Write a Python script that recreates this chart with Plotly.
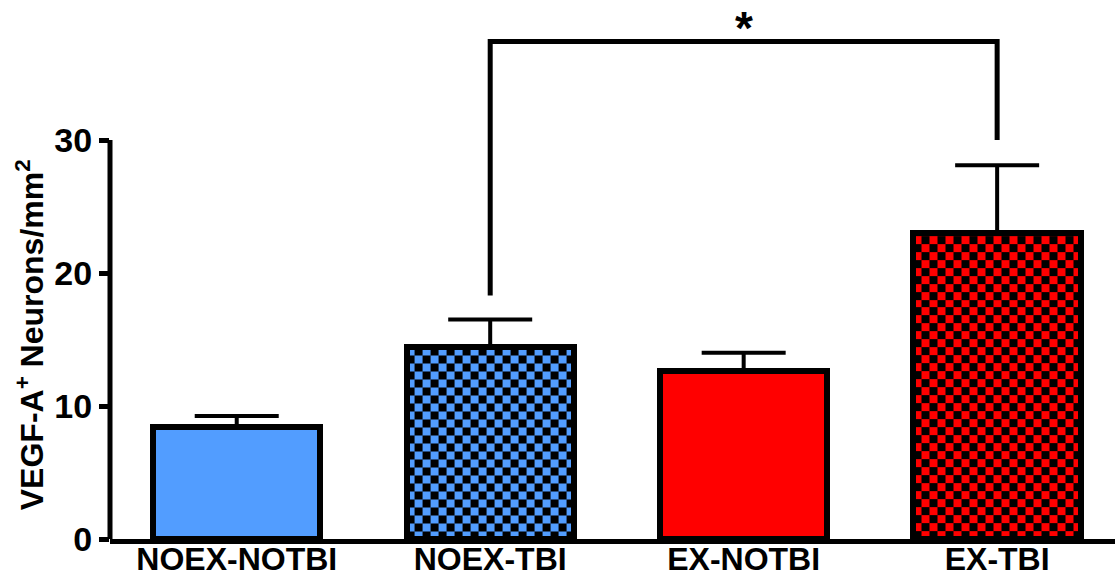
import numpy as np
import plotly.graph_objects as go

# Group data
groups = ["NOEX-NOTBI", "NOEX-TBI", "EX-NOTBI", "EX-TBI"]
means = [8.4, 14.4, 12.6, 23.0]
sems = [0.85, 2.1, 1.4, 5.1]
checkered = [False, True, False, True]
colors = ["#529dff", "#529dff", "#ff0000", "#ff0000"]

# Significance bracket between NOEX-TBI and EX-TBI
bracket_x = [1, 1, 3, 3]
bracket_y = [18.3, 37.4, 37.4, 30.0]
star_label = "*"

FONT = "Arial, Liberation Sans, sans-serif"
BAR_W = 0.66
CELL_W = 0.0316   # checker cell width (x units)
CELL_H = 0.6      # checker cell height (y units)

xpos = list(range(len(groups)))
fig = go.Figure()

# Checkerboard fills for the TBI groups
for i, (m, chk, c) in enumerate(zip(means, checkered, colors)):
    if not chk:
        continue
    left, right = i - BAR_W / 2, i + BAR_W / 2
    xe = list(np.arange(left, right, CELL_W)) + [right]
    ye = list(np.arange(0, m, CELL_H)) + [m]
    nx, ny = len(xe) - 1, len(ye) - 1
    z = [[(r + k) % 2 for k in range(nx)] for r in range(ny)]
    fig.add_trace(go.Heatmap(
        x=xe, y=ye, z=z, zmin=0, zmax=1,
        colorscale=[[0, "#000000"], [1, c]],
        showscale=False, hoverinfo="skip", zsmooth=False,
    ))

fill = [("rgba(0,0,0,0)" if chk else c) for chk, c in zip(checkered, colors)]
fig.add_trace(go.Bar(
    x=xpos, y=means, width=BAR_W,
    marker=dict(color=fill, line=dict(color="black", width=6)),
    error_y=dict(type="data", array=sems, arrayminus=[0] * len(sems),
                 symmetric=False, color="black", thickness=4, width=42),
    showlegend=False,
))

fig.add_trace(go.Scatter(
    x=bracket_x, y=bracket_y, mode="lines",
    line=dict(color="black", width=5), showlegend=False, hoverinfo="skip",
))

fig.add_annotation(x=2, y=38.4, xref="x", yref="y", text=star_label,
                   showarrow=False, yanchor="middle",
                   font=dict(family=FONT, size=46, color="black", weight="bold"))

# y-axis title
fig.add_annotation(x=-80 / 1005, y=0.383, xref="paper", yref="paper",
                   text="VEGF-A<sup>+</sup> Neurons/mm<sup>2</sup>",
                   textangle=-90, showarrow=False,
                   xanchor="center", yanchor="middle",
                   font=dict(family=FONT, size=32, color="black", weight="bold"))

# y-axis line stops at the top tick
fig.add_shape(type="line", xref="paper", yref="y", x0=0, x1=0, y0=0, y1=30,
              line=dict(color="black", width=5))

fig.update_layout(
    width=1115, height=578,
    margin=dict(l=110, r=0, t=7, b=39),
    plot_bgcolor="white", paper_bgcolor="white",
    bargap=0,
    xaxis=dict(range=[-0.5, 3.465], tickmode="array", tickvals=xpos,
               ticktext=groups, showline=True, linecolor="black", linewidth=5,
               ticks="", showgrid=False, zeroline=False, automargin=False,
               ticklabelstandoff=-12,
               tickfont=dict(family=FONT, size=32, color="black", weight="bold")),
    yaxis=dict(range=[0, 40], tickmode="array", tickvals=[0, 10, 20, 30],
               showline=False, ticks="outside", ticklen=10, tickwidth=5,
               tickcolor="black", showgrid=False, zeroline=False, automargin=False,
               tickfont=dict(family=FONT, size=34, color="black", weight="bold")),
)

fig.write_html("out.html")
